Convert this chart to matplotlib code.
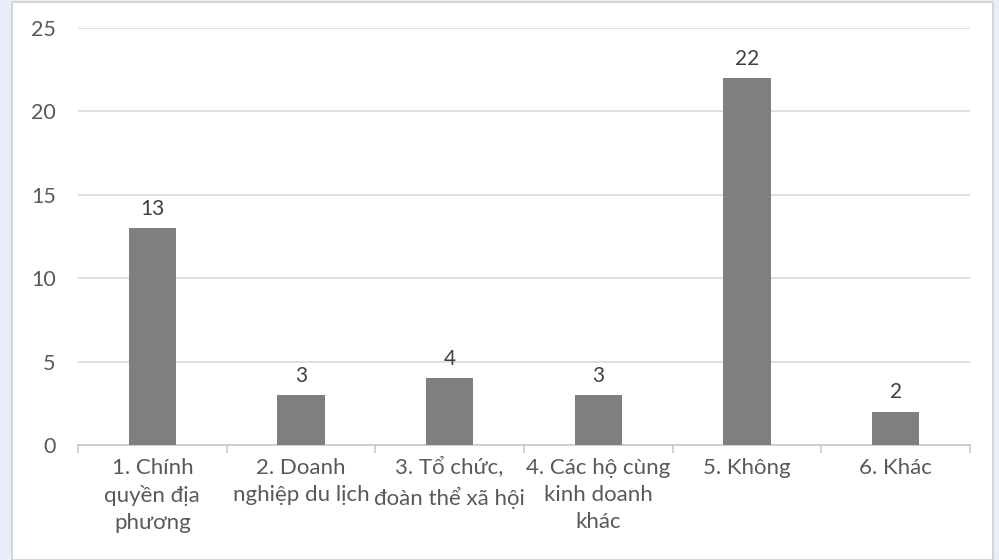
import matplotlib
matplotlib.use('Agg')
import matplotlib.pyplot as plt
from matplotlib.patches import Rectangle

# du lieu
categories = ['1. Chính\nquyền địa\nphương', '2. Doanh\nnghiệp du lịch', '3. Tổ chức,\nđoàn thể xã hội',
              '4. Các hộ cùng\nkinh doanh\nkhác', '5. Không', '6. Khác']
values = [13, 3, 4, 3, 22, 2]
yticks = [0, 5, 10, 15, 20, 25]

plt.rcParams['font.family'] = ['Lato', 'DejaVu Sans']

fig = plt.figure(figsize=(9.99, 5.6), dpi=100)
fig.patch.set_facecolor('#e8edf7')
# khung trang
fig.patches.append(Rectangle((12 / 999, 0 / 560), 981 / 999, 558 / 560, transform=fig.transFigure,
                             facecolor='white', edgecolor='#d0d0d0', linewidth=1.2, zorder=-5))

ax = fig.add_axes([78 / 999, (560 - 445) / 560, 892 / 999, 417 / 560])
ax.set_facecolor('white')
x = list(range(len(values)))
ax.bar(x, values, width=0.32, color='#7f7f7f', zorder=3)
for i, v in enumerate(values):
    ax.text(i, v + 0.55, str(v), ha='center', va='bottom', fontsize=15, color='#404040')

ax.set_xlim(-0.5, len(values) - 0.5)
ax.set_ylim(0, 25)
ax.set_yticks(yticks)
ax.yaxis.grid(True, color='#d9d9d9', linewidth=1.2, zorder=0)
ax.set_xticks(x)
ax.set_xticklabels(categories, fontsize=16, color='#595959', linespacing=1.45)
# vach chia giua cac nhom
ax.set_xticks([i - 0.5 for i in range(len(values) + 1)], minor=True)
ax.tick_params(axis='x', which='major', length=0, pad=9)
ax.tick_params(axis='x', which='minor', length=6, color='#c8c8c8', width=1.2)
ax.tick_params(axis='y', length=0, pad=16, labelsize=15.5, labelcolor='#595959')
for s in ['top', 'right', 'left']:
    ax.spines[s].set_visible(False)
ax.spines['bottom'].set_color('#c8c8c8')
ax.spines['bottom'].set_linewidth(1.2)

fig.savefig('out.png', dpi=100, facecolor=fig.get_facecolor())
